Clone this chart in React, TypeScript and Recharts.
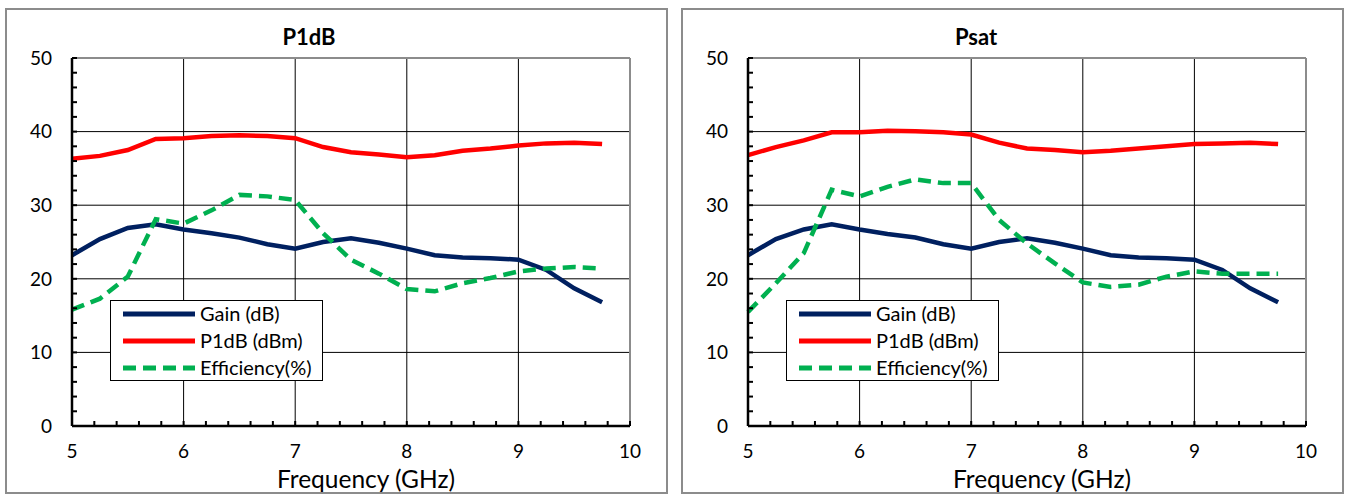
import React from "react";
import { Legend, Line, LineChart, ReferenceLine, XAxis, YAxis } from "recharts";

// frequency points (GHz)
const freq = [5, 5.25, 5.5, 5.75, 6, 6.25, 6.5, 6.75, 7, 7.25, 7.5, 7.75, 8, 8.25, 8.5, 8.75, 9, 9.25, 9.5, 9.75];

// P1dB chart
const p1dbGain = [23.2, 25.4, 26.9, 27.4, 26.7, 26.2, 25.6, 24.7, 24.1, 25.0, 25.5, 24.9, 24.1, 23.2, 22.9, 22.8, 22.6, 21.2, 18.7, 16.8];
const p1dbPower = [36.3, 36.7, 37.5, 39.0, 39.1, 39.4, 39.5, 39.4, 39.1, 37.9, 37.2, 36.9, 36.5, 36.8, 37.4, 37.7, 38.1, 38.4, 38.5, 38.3];
const p1dbEff = [15.8, 17.3, 20.3, 28.1, 27.5, 29.3, 31.4, 31.2, 30.7, 26.2, 22.6, 20.7, 18.6, 18.3, 19.4, 20.1, 21.0, 21.4, 21.6, 21.4];

// Psat chart
const psatGain = [23.2, 25.4, 26.7, 27.4, 26.7, 26.1, 25.6, 24.7, 24.1, 25.0, 25.5, 24.9, 24.1, 23.2, 22.9, 22.8, 22.6, 21.2, 18.7, 16.8];
const psatPower = [36.8, 37.9, 38.8, 39.9, 39.9, 40.1, 40.05, 39.9, 39.6, 38.5, 37.7, 37.5, 37.2, 37.4, 37.7, 38.0, 38.3, 38.4, 38.5, 38.3];
const psatEff = [15.5, 19.4, 23.5, 32.1, 31.2, 32.5, 33.5, 33.0, 33.0, 28.0, 24.8, 22.1, 19.5, 18.9, 19.2, 20.3, 21.0, 20.7, 20.7, 20.7];

// axes
const xTicks = [5, 5.2, 5.4, 5.6, 5.8, 6, 6.2, 6.4, 6.6, 6.8, 7, 7.2, 7.4, 7.6, 7.8, 8, 8.2, 8.4, 8.6, 8.8, 9, 9.2, 9.4, 9.6, 9.8, 10];
const yTicks = [0, 2, 4, 6, 8, 10, 12, 14, 16, 18, 20, 22, 24, 26, 28, 30, 32, 34, 36, 38, 40, 42, 44, 46, 48, 50];
const xGrid = [6, 7, 8, 9];
const yGrid = [10, 20, 30, 40];

const NAVY = "#002060";
const RED = "#FF0000";
const GREEN = "#00B050";
const FONT = "Lato, 'Open Sans', sans-serif";

const series = [
  { key: "gain", name: "Gain (dB)", color: NAVY, dash: undefined as string | undefined },
  { key: "power", name: "P1dB (dBm)", color: RED, dash: undefined as string | undefined },
  { key: "eff", name: "Efficiency(%)", color: GREEN, dash: "13 7" },
];

const LegendBox = () => (
  <div
    style={{
      width: 213,
      height: 81,
      boxSizing: "border-box",
      border: "1px solid #000",
      background: "#fff",
      fontFamily: FONT,
      fontSize: 20,
    }}
  >
    {series.map((s) => (
      <div key={s.key} style={{ display: "flex", alignItems: "center", height: 27, marginTop: s.key === "gain" ? -2 : 0 }}>
        <svg width={79} height={12} style={{ marginLeft: 10, marginTop: 2 }}>
          <line x1={2} y1={6} x2={74} y2={6} stroke={s.color} strokeWidth={5} strokeDasharray={s.dash} />
        </svg>
        <span>{s.name}</span>
      </div>
    ))}
  </div>
);

interface PanelProps {
  title: string;
  titleX: number;
  left: number;
  gain: number[];
  power: number[];
  eff: number[];
}

const Panel: React.FC<PanelProps> = ({ title, titleX, left, gain, power, eff }) => {
  const data = freq.map((f, i) => ({ f, gain: gain[i], power: power[i], eff: eff[i] }));
  return (
    <div style={{ position: "absolute", left, top: 0, width: 673, height: 496 }}>
      <div
        style={{
          position: "absolute",
          left: 5,
          top: 8,
          width: 663,
          height: 486,
          boxSizing: "border-box",
          border: "2px solid #8c8c8c",
        }}
      />
      <div
        style={{
          position: "absolute",
          left: titleX - 60,
          top: 23,
          width: 120,
          textAlign: "center",
          fontFamily: FONT,
          fontWeight: 700,
          fontSize: 22,
        }}
      >
        {title}
      </div>
      <div style={{ position: "absolute", left: 0, top: 0 }}>
        <LineChart width={673} height={496} data={data} margin={{ top: 58, right: 43, bottom: 0, left: 0 }}>
          {xGrid.map((v) => (
            <ReferenceLine key={"x" + v} x={v} stroke="#000" strokeWidth={1} />
          ))}
          {yGrid.map((v) => (
            <ReferenceLine key={"y" + v} y={v} stroke="#000" strokeWidth={1} />
          ))}
          <ReferenceLine y={50} stroke="#8c8c8c" strokeWidth={2} />
          <ReferenceLine x={10} stroke="#8c8c8c" strokeWidth={2} />
          <XAxis
            dataKey="f"
            type="number"
            domain={[5, 10]}
            ticks={xTicks}
            interval={0}
            height={70}
            tickSize={-5}
            tickMargin={24}
            tickLine={{ stroke: "#000", strokeWidth: 2 }}
            axisLine={{ stroke: "#000", strokeWidth: 2.5 }}
            tick={{ fill: "#000", fontSize: 19, fontFamily: FONT }}
            tickFormatter={(v: number) => (Number.isInteger(v) ? String(v) : "")}
            label={{ value: "Frequency (GHz)", position: "insideBottom", offset: 8, dx: 15, fontSize: 24.5, fill: "#000", fontFamily: FONT }}
          />
          <YAxis
            type="number"
            domain={[0, 50]}
            ticks={yTicks}
            interval={0}
            width={72}
            tickSize={-5}
            tickMargin={25}
            tickLine={{ stroke: "#000", strokeWidth: 2 }}
            axisLine={{ stroke: "#000", strokeWidth: 2.5 }}
            tick={{ fill: "#000", fontSize: 19, fontFamily: FONT }}
            tickFormatter={(v: number) => (v % 10 === 0 ? String(v) : "")}
          />
          <Legend
            layout="vertical"
            align="center"
            verticalAlign="middle"
            wrapperStyle={{ left: 110, top: 300, width: 213, height: 81 }}
            content={() => <LegendBox />}
          />
          {series.map((s) => (
            <Line
              key={s.key}
              dataKey={s.key}
              name={s.name}
              type="linear"
              stroke={s.color}
              strokeWidth={4.5}
              strokeDasharray={s.dash}
              dot={false}
              activeDot={false}
              isAnimationActive={false}
            />
          ))}
        </LineChart>
      </div>
    </div>
  );
};

export default function App() {
  return (
    <div style={{ position: "absolute", left: 0, top: 0, width: 1346, height: 496, background: "#fff" }}>
      <Panel title="P1dB" titleX={309} left={0} gain={p1dbGain} power={p1dbPower} eff={p1dbEff} />
      <Panel title="Psat" titleX={300} left={676} gain={psatGain} power={psatPower} eff={psatEff} />
    </div>
  );
}
